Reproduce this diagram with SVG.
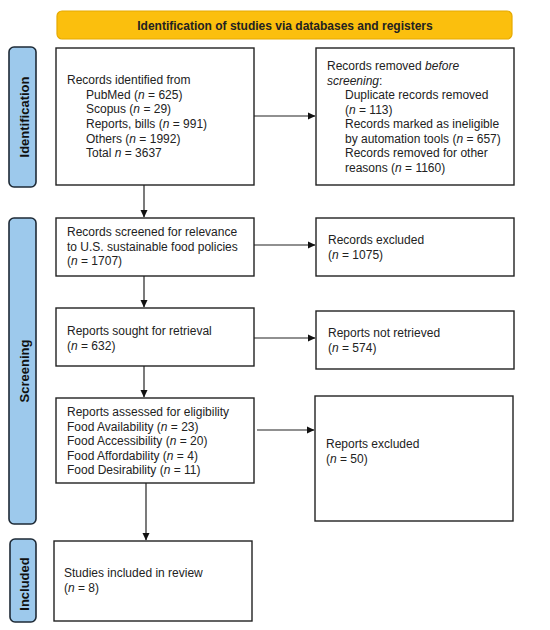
<svg xmlns="http://www.w3.org/2000/svg" width="550" height="630" viewBox="0 0 550 630">
<defs>
<marker id="arr" markerWidth="8" markerHeight="8" refX="7" refY="4" orient="auto" markerUnits="userSpaceOnUse">
<path d="M0,0.5 L7.5,4 L0,7.5 Z" fill="#111"/>
</marker>
<style>
text{font-family:"Liberation Sans",Arial,sans-serif;font-size:12px;fill:#222}
.box{fill:#fff;stroke:#222;stroke-width:1.4}
.side{fill:#9dc9ec;stroke:#1e2a36;stroke-width:1.6}
.hdr{fill:#fbbf0d;stroke:#e6aa00;stroke-width:1.2}
.b{font-weight:bold}
.sl{font-weight:bold;font-size:13px;fill:#111}
.edge{stroke:#222;stroke-width:1.2;fill:none;marker-end:url(#arr)}
</style>
</defs>
<rect width="550" height="630" fill="#fff"/>
<g id="header">
<rect class="hdr" x="57" y="11" width="455" height="28" rx="5"/>
<text class="b" x="285" y="29.5" text-anchor="middle">Identification of studies via databases and registers</text>
</g>
<g id="lbl-identification">
<rect class="side" x="9" y="47" width="27" height="140" rx="5"/>
<text class="sl" transform="translate(28.5,117) rotate(-90)" text-anchor="middle">Identification</text>
</g>
<g id="lbl-screening">
<rect class="side" x="9" y="218" width="27" height="306" rx="5"/>
<text class="sl" transform="translate(28.5,371) rotate(-90)" text-anchor="middle">Screening</text>
</g>
<g id="lbl-included">
<rect class="side" x="10" y="539" width="26" height="83" rx="5"/>
<text class="sl" transform="translate(28.5,584) rotate(-90)" text-anchor="middle">Included</text>
</g>
<g id="n-identified">
<rect class="box" x="56" y="48" width="198" height="137"/>
<text x="67" y="84">Records identified from</text>
<text x="86" y="98.7">PubMed (<tspan font-style="italic">n</tspan> = 625)</text>
<text x="86" y="113.3">Scopus (<tspan font-style="italic">n</tspan> = 29)</text>
<text x="86" y="128">Reports, bills (<tspan font-style="italic">n</tspan> = 991)</text>
<text x="86" y="142.6">Others (<tspan font-style="italic">n</tspan> = 1992)</text>
<text x="86" y="157.2">Total <tspan font-style="italic">n</tspan> = 3637</text>
</g>
<g id="n-removed">
<rect class="box" x="316" y="48" width="198" height="137"/>
<text x="327" y="70">Records removed <tspan font-style="italic">before</tspan></text>
<text x="327" y="84.5"><tspan font-style="italic">screening</tspan>:</text>
<text x="345" y="99">Duplicate records removed</text>
<text x="345" y="113.5">(<tspan font-style="italic">n</tspan> = 113)</text>
<text x="345" y="128">Records marked as ineligible</text>
<text x="345" y="142.5">by automation tools (<tspan font-style="italic">n</tspan> = 657)</text>
<text x="345" y="157">Records removed for other</text>
<text x="345" y="171.5">reasons (<tspan font-style="italic">n</tspan> = 1160)</text>
</g>
<g id="n-screened">
<rect class="box" x="56" y="218" width="198" height="58"/>
<text x="67" y="236">Records screened for relevance</text>
<text x="67" y="250.5">to U.S. sustainable food policies</text>
<text x="67" y="265">(<tspan font-style="italic">n</tspan> = 1707)</text>
</g>
<g id="n-excluded">
<rect class="box" x="316" y="218" width="198" height="58"/>
<text x="328" y="244">Records excluded</text>
<text x="328" y="258.5">(<tspan font-style="italic">n</tspan> = 1075)</text>
</g>
<g id="n-sought">
<rect class="box" x="56" y="308" width="198" height="58"/>
<text x="67" y="335">Reports sought for retrieval</text>
<text x="67" y="349.5">(<tspan font-style="italic">n</tspan> = 632)</text>
</g>
<g id="n-notretrieved">
<rect class="box" x="316" y="311" width="198" height="58"/>
<text x="328" y="337">Reports not retrieved</text>
<text x="328" y="351.5">(<tspan font-style="italic">n</tspan> = 574)</text>
</g>
<g id="n-assessed">
<rect class="box" x="56" y="398" width="198" height="85"/>
<text x="67" y="416">Reports assessed for eligibility</text>
<text x="67" y="430.6">Food Availability (<tspan font-style="italic">n</tspan> = 23)</text>
<text x="67" y="445.2">Food Accessibility (<tspan font-style="italic">n</tspan> = 20)</text>
<text x="67" y="459.8">Food Affordability (<tspan font-style="italic">n</tspan> = 4)</text>
<text x="67" y="474.4">Food Desirability (<tspan font-style="italic">n</tspan> = 11)</text>
</g>
<g id="n-reportsexcluded">
<rect class="box" x="315" y="396" width="198" height="125"/>
<text x="326" y="448">Reports excluded</text>
<text x="326" y="462.5">(<tspan font-style="italic">n</tspan> = 50)</text>
</g>
<g id="n-included">
<rect class="box" x="54" y="541" width="198" height="80"/>
<text x="64" y="577">Studies included in review</text>
<text x="64" y="591.5">(<tspan font-style="italic">n</tspan> = 8)</text>
</g>
<g id="connectors">
<line class="edge" x1="254" y1="116" x2="315" y2="116"/>
<line class="edge" x1="144" y1="185" x2="144" y2="217"/>
<line class="edge" x1="254" y1="245" x2="315" y2="245"/>
<line class="edge" x1="144" y1="276" x2="144" y2="307"/>
<line class="edge" x1="254" y1="338" x2="315" y2="338"/>
<line class="edge" x1="144" y1="366" x2="144" y2="397"/>
<line class="edge" x1="257" y1="430" x2="314" y2="430"/>
<line class="edge" x1="146" y1="483" x2="146" y2="540"/>
</g>
</svg>
